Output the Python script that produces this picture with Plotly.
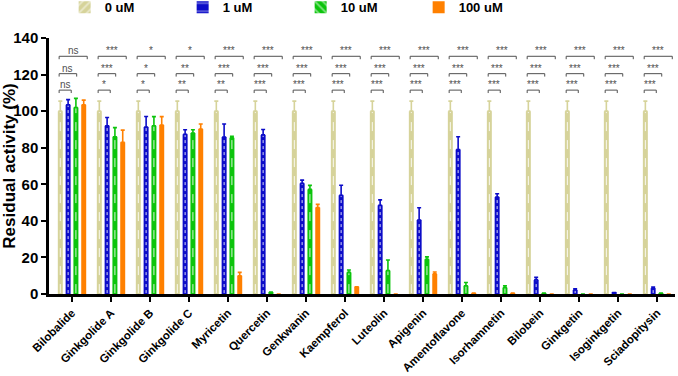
import plotly.graph_objects as go

categories = ["Bilobalide", "Ginkgolide A", "Ginkgolide B", "Ginkgolide C", "Myricetin",
              "Quercetin", "Genkwanin", "Kaempferol", "Luteolin", "Apigenin",
              "Amentoflavone", "Isorhamnetin", "Bilobein", "Ginkgetin", "Isoginkgetin",
              "Sciadopitysin"]
series_names = ["0 uM", "1 uM", "10 uM", "100 uM"]

v0 = [100] * 16
e0 = [5.5] * 16
v1 = [103.5, 92, 91.3, 87.4, 85.8, 87, 60.5, 54, 48.5, 40.5, 79, 53, 7.7, 2.2, 0.6, 3.2]
e1 = [2.8, 4.5, 5.8, 2.4, 7.2, 3, 1.8, 5.5, 3, 6.7, 7, 1.8, 1.4, 0.7, 0.2, 0.6]
v10 = [102, 86, 92, 88, 85.5, 0.8, 57.2, 11.8, 12.8, 19, 4.5, 3.5, 0.5, 0, 0, 0.5]
e10 = [5, 5, 5, 1.8, 0.8, 0.3, 2.2, 1.3, 5.8, 1.3, 1.8, 1, 0, 0, 0, 0]
v100 = [103.5, 83, 92.4, 90.2, 10, 0, 47.3, 4, 0, 11, 0.5, 0.5, 0, 0, 0, 0]
e100 = [2.5, 6.6, 4.6, 2.8, 1.8, 0, 1.7, 0, 0, 1, 0, 0, 0, 0, 0, 0]

sig_1 = ["ns", "*", "*", "**", "**", "***", "***", "***", "***", "***", "***", "***", "***", "***", "***", "***"]
sig_10 = ["ns", "***", "*", "**", "***", "***", "***", "***", "***", "***", "***", "***", "***", "***", "***", "***"]
sig_100 = ["ns", "***", "*", "*", "***", "***", "***", "***", "***", "***", "***", "***", "***", "***", "***", "***"]

colors = ["#d6d39a", "#0c0cc8", "#0cc40c", "#ff8000"]
values = [v0, v1, v10, v100]
errors = [e0, e1, e10, e100]
FONT = "Liberation Sans, Arial, sans-serif"

x = list(range(len(categories)))
offsets = [-0.3, -0.1, 0.1, 0.3]

fig = go.Figure()
for k in range(4):
    fig.add_trace(go.Bar(
        x=x, y=values[k], name=series_names[k], offsetgroup=str(k),
        marker=dict(color=colors[k], line=dict(width=0)),
        error_y=dict(type="data", symmetric=False, array=errors[k],
                     arrayminus=[0] * len(x), color=colors[k], thickness=1.6, width=2),
        showlegend=False,
    ))

# white dashed centre lines inside bars
dashes = ["dash", "dot", "dash"]
for k in range(3):
    xs, ys = [], []
    for i, v in enumerate(values[k]):
        if v > 2:
            xs += [i + offsets[k], i + offsets[k], None]
            ys += [0.5, v - 0.5, None]
    fig.add_trace(go.Scatter(x=xs, y=ys, mode="lines",
                             line=dict(color="rgba(255,255,255,0.85)", width=1, dash=dashes[k]),
                             showlegend=False, hoverinfo="skip"))

# legend-only entries with swatch patterns
patterns = ["/", "-", "\\", ""]
psizes = [7, 12, 7, 8]
psol = [0.3, 0.15, 0.3, 0.3]
for k in range(4):
    fig.add_trace(go.Bar(
        x=[None], y=[None], name=series_names[k], offsetgroup=str(k),
        marker=dict(color=colors[k], line=dict(width=0),
                    pattern=dict(shape=patterns[k], fgcolor="white", size=psizes[k], solidity=psol[k])),
        showlegend=True,
    ))

# significance brackets
levels = [(111.5, sig_1, -0.02), (120.5, sig_10, 0.12), (130, sig_100, 0.39)]
for h, sigs, end in levels:
    for i, s in enumerate(sigs):
        x0 = i - 0.33
        x1 = i + end
        fig.add_shape(type="path",
                      path=f"M {x0} {h-1.6} L {x0} {h} L {x1} {h} L {x1} {h-1.6}",
                      line=dict(color="#505050", width=1), xref="x", yref="y")
        fig.add_annotation(x=(x0 + x1) / 2, y=h, text=s, showarrow=False,
                           yanchor="bottom", yshift=-2,
                           font=dict(family=FONT, size=10, color="#505050"))

fig.update_layout(
    width=678, height=376,
    margin=dict(l=49, r=3, t=38, b=82, autoexpand=False),
    paper_bgcolor="white", plot_bgcolor="white",
    barmode="group", bargap=0.2, bargroupgap=0.36,
    font=dict(family=FONT, color="black"),
    legend=dict(orientation="h", x=0.025, xanchor="left", y=1.12, yanchor="middle",
                font=dict(family=FONT, size=13, weight="bold"),
                entrywidth=73, traceorder="normal"),
)
fig.update_xaxes(range=[-0.59, 15.46], tickvals=x, ticktext=categories, tickangle=-45,
                 showline=True, linecolor="black", linewidth=2.5,
                 ticks="outside", ticklen=5, tickwidth=2, tickcolor="black",
                 tickfont=dict(family=FONT, size=11.5, weight="bold", color="black"),
                 showgrid=False, zeroline=False)
fig.update_yaxes(range=[0, 140], tickvals=[0, 20, 40, 60, 80, 100, 120, 140],
                 showline=True, linecolor="black", linewidth=2.5,
                 ticks="outside", ticklen=5, tickwidth=2, tickcolor="black",
                 tickfont=dict(family=FONT, size=15, weight="bold", color="black"),
                 title=dict(text="Residual activity (%)", standoff=2,
                            font=dict(family=FONT, size=17, weight="bold", color="black")),
                 showgrid=False, zeroline=False)

fig.write_html("out.html", config={"displayModeBar": False},
               post_script="document.body.style.margin='0';document.body.style.overflow='hidden';")
